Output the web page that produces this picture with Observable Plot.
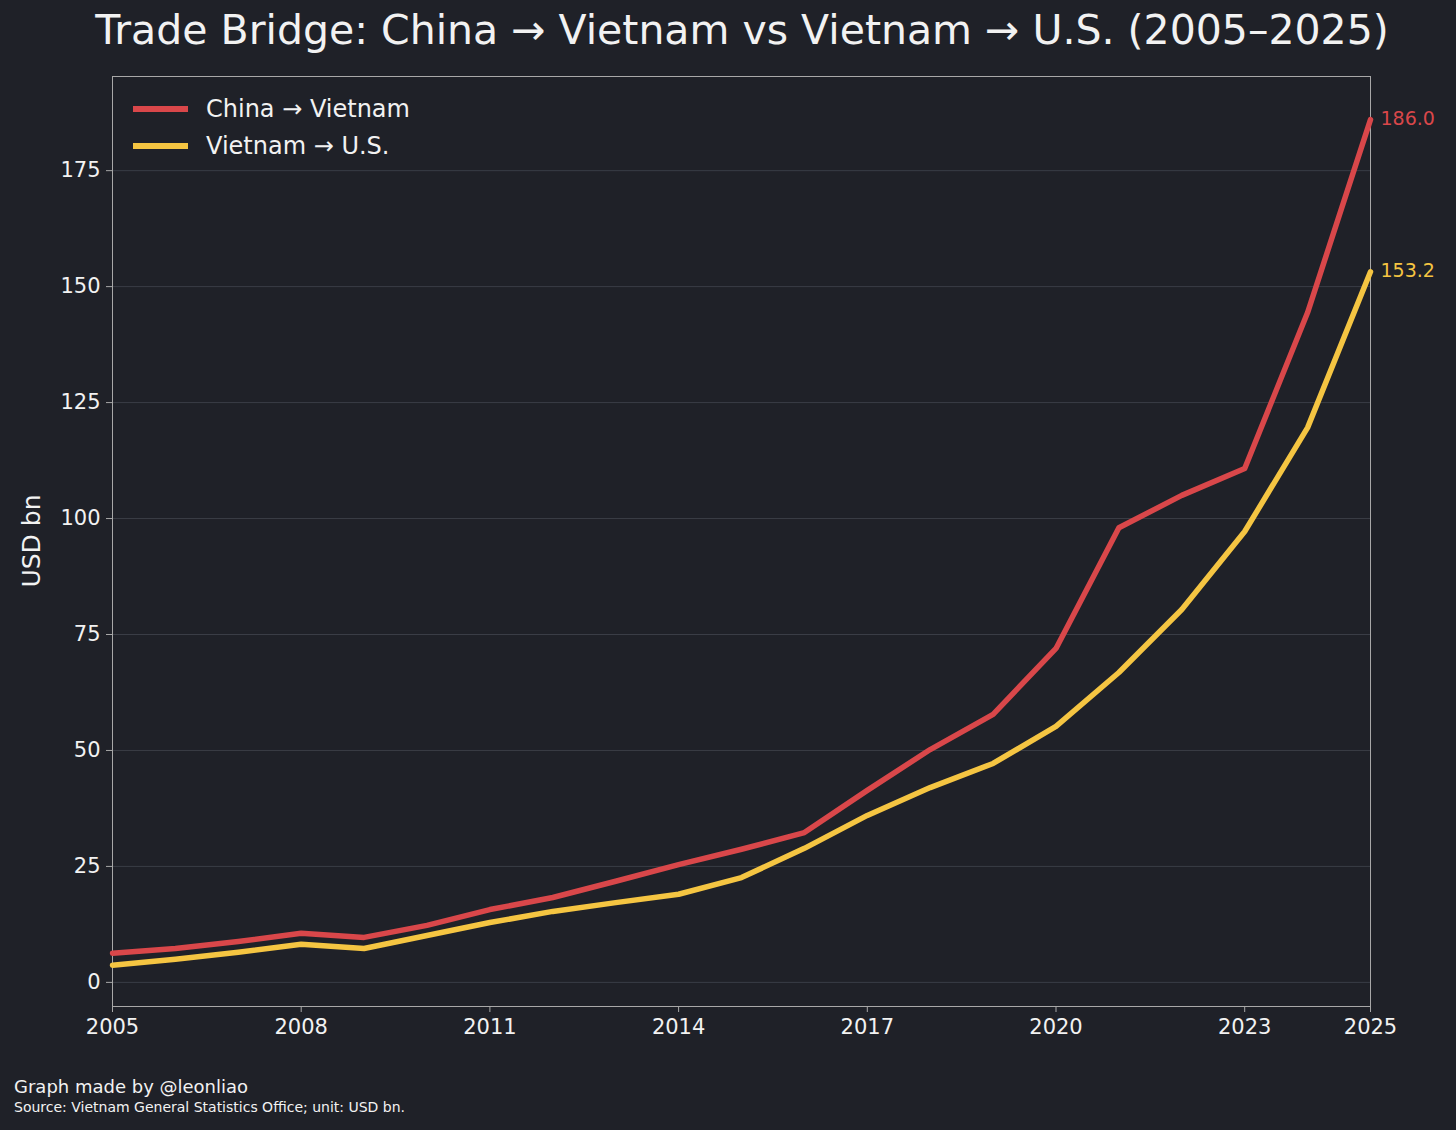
<!DOCTYPE html>
<html><head><meta charset="utf-8">
<script src="https://cdn.jsdelivr.net/npm/d3@7"></script>
<script src="https://cdn.jsdelivr.net/npm/@observablehq/plot@0.6"></script>
<style>
body{margin:0;background:#1f2128;width:1456px;height:1130px;position:relative;overflow:hidden;font-family:"DejaVu Sans",sans-serif;color:#fff}
#title{position:absolute;top:6px;left:0;width:1484px;text-align:center;font-size:41px;color:#f2f2f2}
#chart{position:absolute;top:60px;left:0}
.leg{position:absolute;left:133px;font-size:24px;color:#f2f2f2;display:flex;align-items:center}
.leg span{display:inline-block;width:55px;height:6px;margin-right:18px}
.cap{position:absolute;left:14px;color:#f2f2f2}
#ylab{position:absolute;left:31px;top:541px;transform:translate(-50%,-50%) rotate(-90deg);font-size:25px;color:#f2f2f2;white-space:nowrap}
</style></head><body>
<div id="title">Trade Bridge: China → Vietnam vs Vietnam → U.S. (2005–2025)</div>
<div id="chart"></div>
<div id="ylab">USD bn</div>
<div class="leg" style="top:95px"><span style="background:#d9474a"></span>China → Vietnam</div>
<div class="leg" style="top:132px"><span style="background:#f5c542"></span>Vietnam → U.S.</div>
<div class="cap" style="top:1076px;font-size:18px">Graph made by @leonliao</div>
<div class="cap" style="top:1099px;font-size:14px">Source: Vietnam General Statistics Office; unit: USD bn.</div>
<script>
const years = d3.range(2005, 2026);
const chinaToVietnam = [6.3,7.3,8.8,10.6,9.7,12.3,15.7,18.3,21.8,25.4,28.7,32.3,41.4,50.2,57.8,72.0,98.0,105.0,110.8,144.4,186.0];
const vietnamToUS = [3.7,5.0,6.5,8.2,7.3,10.1,12.9,15.3,17.2,19.0,22.6,28.9,36.0,42.0,47.2,55.2,66.8,80.4,97.2,119.6,153.2];
const xTicks = [2005,2008,2011,2014,2017,2020,2023,2025];
const yTicks = [0,25,50,75,100,125,150,175];
const series = [
  {name:"China → Vietnam", values:chinaToVietnam, color:"#d9474a"},
  {name:"Vietnam → U.S.", values:vietnamToUS, color:"#f5c542"}
];
const data = series.flatMap(s => years.map((y,i)=>({year:y, value:s.values[i], name:s.name, color:s.color})));
const last = series.map(s => ({year:2025, value:s.values[s.values.length-1], color:s.color}));
const plot = Plot.plot({
  width:1456, height:1010,
  marginLeft:112, marginRight:86, marginTop:16, marginBottom:64,
  style:{background:"transparent", color:"#f2f2f2", fontSize:"21px", fontFamily:"DejaVu Sans, sans-serif"},
  x:{domain:[2005,2025], ticks:xTicks, tickFormat:d=>String(d), label:null, tickSize:6},
  y:{domain:[-5.2,195.3], ticks:yTicks, label:null, tickSize:6},
  marks:[
    Plot.gridY(yTicks,{stroke:"#3a3d46", strokeOpacity:1, strokeWidth:1}),
    Plot.frame({stroke:"#a8a8a8", strokeWidth:1}),
    Plot.axisX({ticks:xTicks, tickFormat:d=>String(d), fontSize:21, tickPadding:7, stroke:"#a8a8a8"}),
    Plot.axisY({ticks:yTicks, fontSize:21, tickPadding:6, label:null, stroke:"#a8a8a8"}),
    Plot.line(data,{x:"year", y:"value", z:"name", stroke:"color", strokeWidth:5.5}),
    Plot.text(last,{x:"year", y:"value", text:d=>d.value.toFixed(1), fill:"color", textAnchor:"start", dx:10, dy:-1, fontSize:19})
  ]
});
document.getElementById("chart").appendChild(plot);
</script>
</body></html>
